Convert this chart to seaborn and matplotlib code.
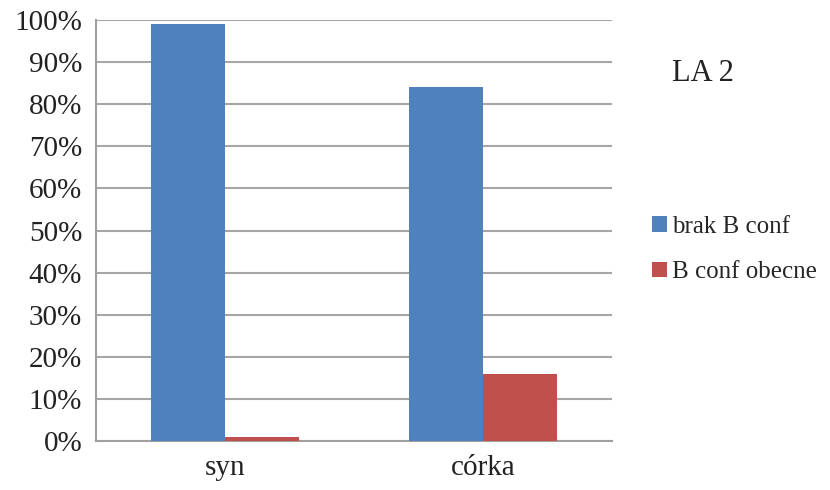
import matplotlib
matplotlib.use("Agg")
import matplotlib.pyplot as plt
import seaborn as sns
import pandas as pd
import numpy as np

# dane
kategorie = ['syn', 'córka']
serie = ['brak B conf', 'B conf obecne']
brak_b_conf = [99, 84]
b_conf_obecne = [1, 16]
kolory = ['#4F81BD', '#C0504D']

df = pd.DataFrame({
    'kategoria': kategorie * 2,
    'seria': [serie[0]] * 2 + [serie[1]] * 2,
    'wartosc': brak_b_conf + b_conf_obecne,
})

sns.set_theme(style='white')
plt.rcParams['font.family'] = ['Liberation Serif', 'DejaVu Serif']

fig = plt.figure(figsize=(8.3, 4.9), dpi=100)
ax = fig.add_axes([0.1157, 0.1, 0.6213, 0.859])

sns.barplot(data=df, x='kategoria', y='wartosc', hue='seria', order=kategorie,
            hue_order=serie, palette=kolory, width=0.574, saturation=1,
            edgecolor='none', linewidth=0, ax=ax, zorder=3)

ax.set_ylim(0, 100)
ax.set_xlim(-0.5, 1.5)
ax.set_yticks(np.arange(0, 101, 10))
ax.set_yticklabels([f'{v}%' for v in range(0, 101, 10)], fontsize=21, color='#222222')
ax.set_xticks(range(len(kategorie)))
ax.set_xticklabels(kategorie, fontsize=21, color='#222222')
ax.set_xticks([-0.5, 0.5, 1.5], minor=True)
ax.tick_params(axis='x', which='major', length=0, pad=10)
ax.tick_params(axis='x', which='minor', length=7, width=1.5, color='#A0A0A0', direction='out')
ax.tick_params(axis='y', length=6, width=1.5, color='#A0A0A0', direction='out', pad=4)
ax.set_xlabel('')
ax.set_ylabel('')

ax.yaxis.grid(True, color='#A6A6A6', linewidth=1.5, zorder=0)
ax.set_axisbelow(True)
for s in ['top', 'right']:
    ax.spines[s].set_visible(False)
for s in ['left', 'bottom']:
    ax.spines[s].set_color('#A0A0A0')
    ax.spines[s].set_linewidth(1.5)

handles, labels = ax.get_legend_handles_labels()
ax.legend(handles, labels, loc='center left', bbox_to_anchor=(1.058, 0.455), frameon=False,
          fontsize=18, handlelength=0.6, handleheight=0.6, handletextpad=0.2,
          labelspacing=0.95, borderaxespad=0)

fig.text(0.81, 0.835, 'LA 2', fontsize=22, color='#222222')

fig.savefig('out.png', dpi=100)
